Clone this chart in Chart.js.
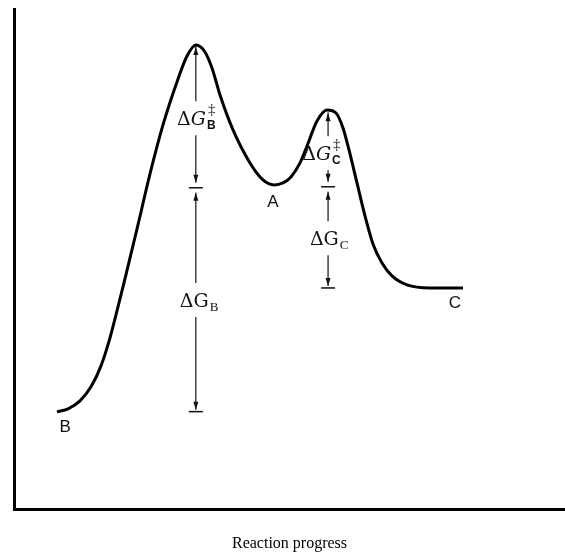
<!DOCTYPE html>
<html>
<head>
<meta charset="utf-8">
<script src="https://cdn.jsdelivr.net/npm/chart.js@4.4.1/dist/chart.umd.min.js"></script>
<style>
  html, body { margin: 0; padding: 0; background: #fff; }
</style>
</head>
<body>
<canvas id="profile" width="565" height="559"></canvas>
<script>
// reaction coordinate (0-100) and free energy (arbitrary units 0-100)
const progress = [7.80, 9.80, 11.98, 13.97, 15.79, 17.42, 18.69, 19.96, 21.23, 22.50, 24.68, 27.04, 29.58,
  31.40, 33.03, 34.66, 35.93, 37.39, 39.75, 42.83, 45.19, 47.19, 48.82, 50.27, 51.91, 53.18, 54.99,
  56.81, 58.44, 59.71, 60.80, 62.25, 63.70, 65.15, 66.79, 68.60, 71.32, 75.50, 81.49];
const energy = [19.56, 20.16, 21.76, 24.55, 28.74, 34.33, 39.72, 45.31, 51.10, 56.89, 67.07, 76.85, 85.43,
  90.62, 92.81, 91.42, 88.22, 82.83, 75.85, 69.26, 65.87, 64.87, 65.27, 66.47, 69.26, 72.65, 77.64,
  79.84, 79.24, 76.25, 71.86, 65.27, 58.68, 53.09, 49.30, 46.71, 44.91, 44.31, 44.31];

// energy difference markers: x, top level, split level, bottom level
const markerX = [33.0, 57.0];
const markerTop = [93.0, 79.8];
const markerMid = [64.3, 64.5];
const markerBottom = [19.6, 44.3];

// ΔG labels on the markers (left edge, vertical centre)
const gapSub = ["B", "B", "C", "C"];
const gapDagger = [true, false, true, false];
const gapX = [29.6, 30.1, 52.3, 53.7];
const gapY = [78.2, 41.9, 71.2, 54.2];

// state labels
const stateNames = ["B", "A", "C"];
const stateX = [9.3, 47.0, 80.0];
const stateY = [16.4, 61.3, 41.3];

const serif = '"DejaVu Serif", "Liberation Serif", serif';
const times = '"Liberation Serif", serif';
const sans = '"Liberation Sans", Arial, sans-serif';

function arrowHead(ctx, px, py, dir) {
  // tip at (px, py); dir -1 points up, 1 points down
  ctx.beginPath();
  ctx.moveTo(px, py);
  ctx.lineTo(px - 2.5, py - dir * 8);
  ctx.lineTo(px + 2.5, py - dir * 8);
  ctx.closePath();
  ctx.fill();
}

function vline(ctx, px, y1, y2) {
  ctx.beginPath();
  ctx.moveTo(px, y1);
  ctx.lineTo(px, y2);
  ctx.stroke();
}

function tick(ctx, px, py) {
  ctx.beginPath();
  ctx.moveTo(px - 7, py);
  ctx.lineTo(px + 7, py);
  ctx.stroke();
}

const annotations = {
  id: "annotations",
  afterDatasetsDraw(chart) {
    const { ctx } = chart;
    const xs = chart.scales.x, ys = chart.scales.y;
    ctx.save();
    ctx.strokeStyle = "#111";
    ctx.fillStyle = "#111";
    ctx.lineWidth = 1.2;
    const half = 17;

    for (let i = 0; i < markerX.length; i++) {
      const px = xs.getPixelForValue(markerX[i]);
      const top = ys.getPixelForValue(markerTop[i]);
      const mid = ys.getPixelForValue(markerMid[i]);
      const bot = ys.getPixelForValue(markerBottom[i]);
      const upC = ys.getPixelForValue(gapY[i * 2]);
      const loC = ys.getPixelForValue(gapY[i * 2 + 1]);

      vline(ctx, px, top + 2, upC - half);
      arrowHead(ctx, px, top + 3, -1);
      vline(ctx, px, upC + half, mid - 5);
      arrowHead(ctx, px, mid - 5, 1);
      vline(ctx, px, mid + 5, loC - half);
      arrowHead(ctx, px, mid + 5, -1);
      vline(ctx, px, loC + half, bot - 2);
      arrowHead(ctx, px, bot - 2, 1);

      ctx.lineWidth = 1.5;
      tick(ctx, px, mid);
      tick(ctx, px, bot);
      ctx.lineWidth = 1.2;
    }

    ctx.textBaseline = "alphabetic";
    ctx.textAlign = "left";
    for (let i = 0; i < gapSub.length; i++) {
      let px = xs.getPixelForValue(gapX[i]);
      const base = ys.getPixelForValue(gapY[i]) + 7;
      ctx.font = "19px " + serif;
      ctx.fillText("Δ", px, base);
      px += ctx.measureText("Δ").width;
      ctx.font = (gapDagger[i] ? "italic " : "") + "19px " + serif;
      ctx.fillText("G", px, base);
      px += ctx.measureText("G").width + 1;
      ctx.font = gapDagger[i] ? "bold 12px " + sans : "13px " + times;
      ctx.fillText(gapSub[i], px, base + 4);
      if (gapDagger[i]) {
        ctx.font = "15px " + times;
        ctx.fillText("‡", px + 1, base - 11);
      }
    }

    ctx.font = "17px " + sans;
    ctx.textAlign = "center";
    ctx.textBaseline = "middle";
    for (let i = 0; i < stateNames.length; i++) {
      ctx.fillText(stateNames[i], xs.getPixelForValue(stateX[i]), ys.getPixelForValue(stateY[i]));
    }
    ctx.restore();
  },
};

const profile = document.querySelector("#profile");
const chart = new Chart(profile, {
  type: "line",
  data: {
    labels: progress,
    datasets: [
      {
        data: progress.map((p, i) => ({ x: p, y: energy[i] })),
        borderColor: "#000",
        borderWidth: 3,
        pointRadius: 0,
        cubicInterpolationMode: "monotone",
        fill: false,
      },
    ],
  },
  options: {
    responsive: false,
    animation: false,
    layout: { padding: { left: 14, top: 9, right: 0, bottom: 6 } },
    scales: {
      x: {
        type: "linear",
        min: 0,
        max: 100,
        grid: { display: false, drawTicks: false },
        ticks: { display: false },
        border: { display: true, color: "#000", width: 3 },
        title: {
          display: true,
          text: "Reaction progress",
          color: "#000",
          font: { family: times, size: 16 },
          padding: { top: 24, bottom: 0 },
        },
      },
      y: {
        min: 0,
        max: 100,
        grid: { display: false, drawTicks: false },
        ticks: { display: false },
        border: { display: true, color: "#000", width: 3 },
      },
    },
    plugins: {
      legend: { display: false },
      tooltip: { enabled: false },
    },
  },
  plugins: [annotations],
});
</script>
</body>
</html>
